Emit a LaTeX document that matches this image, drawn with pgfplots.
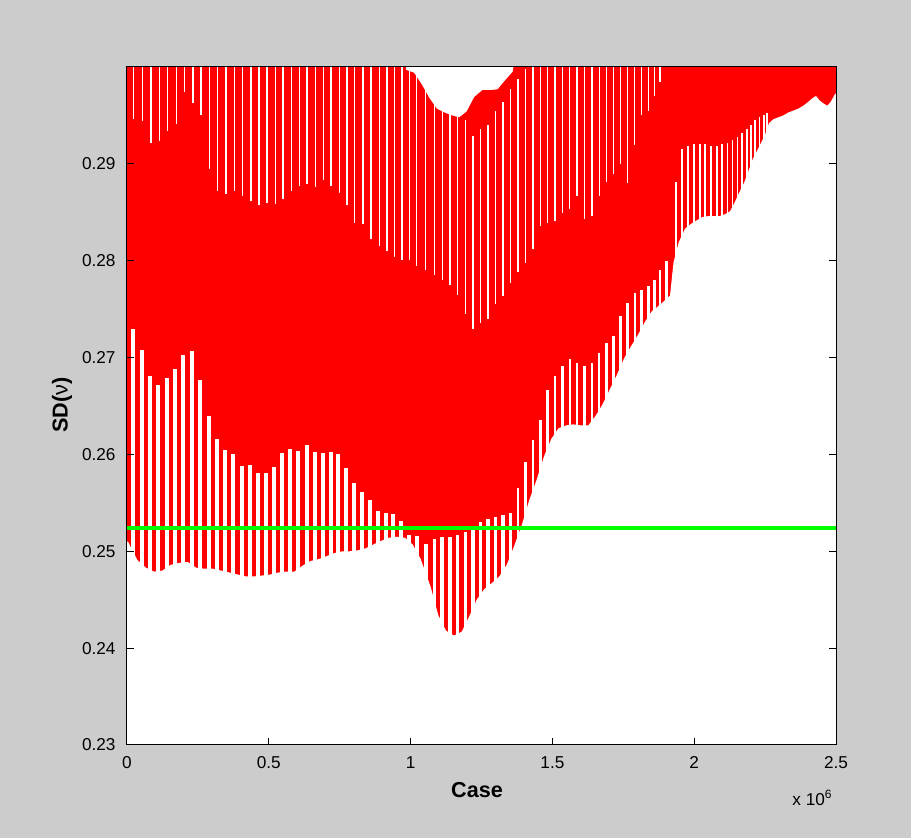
\documentclass[border=0pt]{standalone}
\usepackage{pgfplots}
\pgfplotsset{compat=1.18}
\usepackage{fontspec}
\setmainfont{Liberation Sans}
\definecolor{mred}{RGB}{255,0,0}
\definecolor{mgreen}{RGB}{0,255,0}
\definecolor{figgray}{RGB}{204,204,204}
\begin{document}
\begin{tikzpicture}
\fill[figgray] (0pt,0pt) rectangle (455.5pt,419pt);
\begin{axis}[
  name=ax,
  at={(63.5pt,46.5pt)}, anchor=south west,
  scale only axis, width=354.5pt, height=339pt,
  xmin=0, xmax=2.5, ymin=0.23, ymax=0.30,
  axis background/.style={fill=white},
  axis on top,
  axis line style={black, line width=0.5pt},
  tick style={black, line width=0.5pt},
  tick align=inside, major tick length=3.5pt,
  xtick pos=left,
  xtick={0,0.5,1,1.5,2,2.5}, xticklabels={0,0.5,1,1.5,2,2.5},
  ytick={0.23,0.24,0.25,0.26,0.27,0.28,0.29},
  yticklabels={0.23,0.24,0.25,0.26,0.27,0.28,0.29},
  tick label style={font=\fontsize{8.6}{10}\selectfont},
  yticklabel style={xshift=-2.2pt},
  xticklabel style={yshift=-2.3pt},
  label style={font=\fontsize{10.8}{13}\selectfont},
  xlabel={\textbf{Case}},
  ylabel={\textbf{SD(}ν\textbf{)}},
  xlabel style={at={(axis description cs:0.4937,-0.0774)}, anchor=base},
  ylabel style={at={(axis description cs:-0.0839,0.5015)}, anchor=base},
]
% dense band: everything below the upper envelope (with the notch)
\addplot[fill=mred, draw=none, forget plot] coordinates {
(-0.01,0.302) (0.9767,0.302) (0.9838,0.2997) (1.0120,0.2994) (1.0391,0.2982)
(1.0659,0.2968) (1.0920,0.2957) (1.1188,0.2953) (1.1449,0.2950) (1.1717,0.2948)
(1.1978,0.2954) (1.2246,0.2969) (1.2528,0.2976) (1.2800,0.2976) (1.3071,0.2977)
(1.3329,0.2986) (1.3600,0.2995) (1.3752,0.302) (2.51,0.302)} \closedcycle;
% thin white slits from the top down to their lower ends
\addplot[draw=none, mark=none, forget plot,
  error bars/.cd, y dir=plus, y explicit, error mark=none,
  error bar style={draw=white, line width=0.65pt}] coordinates {
(0.0236,0.2946) += (0,0.02) (0.0554,0.2944) += (0,0.02) (0.0846,0.2922) += (0,0.02)
(0.1139,0.2924) += (0,0.02) (0.1435,0.2934) += (0,0.02) (0.1738,0.2941) += (0,0.02)
(0.2035,0.2974) += (0,0.02) (0.2327,0.2963) += (0,0.02) (0.2609,0.2950) += (0,0.02)
(0.2902,0.2895) += (0,0.02) (0.3198,0.2872) += (0,0.02) (0.3491,0.2869) += (0,0.02)
(0.3783,0.2872) += (0,0.02) (0.4080,0.2867) += (0,0.02) (0.4372,0.2862) += (0,0.02)
(0.4654,0.2858) += (0,0.02) (0.4937,0.2860) += (0,0.02) (0.5229,0.2859) += (0,0.02)
(0.5501,0.2864) += (0,0.02) (0.5793,0.2872) += (0,0.02) (0.6090,0.2877) += (0,0.02)
(0.6347,0.2879) += (0,0.02) (0.6640,0.2876) += (0,0.02) (0.6936,0.2883) += (0,0.02)
(0.7193,0.2877) += (0,0.02) (0.7486,0.2870) += (0,0.02) (0.7757,0.2857) += (0,0.02)
(0.8029,0.2839) += (0,0.02) (0.8322,0.2838) += (0,0.02) (0.8604,0.2822) += (0,0.02)
(0.8896,0.2815) += (0,0.02) (0.9168,0.2810) += (0,0.02) (0.9439,0.2804) += (0,0.02)
(0.9697,0.2801) += (0,0.02) (0.9968,0.2801) += (0,0.02) (1.0215,0.2795) += (0,0.02)
(1.0526,0.2790) += (0,0.02) (1.0843,0.2785) += (0,0.02) (1.1114,0.2780) += (0,0.02)
(1.1389,0.2775) += (0,0.02) (1.1664,0.2765) += (0,0.02) (1.1936,0.2745) += (0,0.02)
(1.2200,0.2729) += (0,0.02) (1.2465,0.2736) += (0,0.02) (1.2729,0.2740) += (0,0.02)
(1.2994,0.2755) += (0,0.02) (1.3258,0.2764) += (0,0.02) (1.3516,0.2777) += (0,0.02)
(1.3787,0.2788) += (0,0.02) (1.4052,0.2798) += (0,0.02) (1.4316,0.2812) += (0,0.02)
(1.4573,0.2836) += (0,0.02) (1.4831,0.2839) += (0,0.02) (1.5092,0.2841) += (0,0.02)
(1.5353,0.2849) += (0,0.02) (1.5614,0.2853) += (0,0.02) (1.5867,0.2867) += (0,0.02)
(1.6132,0.2843) += (0,0.02) (1.6396,0.2846) += (0,0.02) (1.6650,0.2867) += (0,0.02)
(1.6897,0.2881) += (0,0.02) (1.7144,0.2890) += (0,0.02) (1.7398,0.2900) += (0,0.02)
(1.7652,0.2880) += (0,0.02) (1.7906,0.2919) += (0,0.02) (1.8145,0.2950) += (0,0.02)
(1.8389,0.2955) += (0,0.02) (1.8600,0.2970) += (0,0.02) (1.8794,0.2985) += (0,0.02)
};
% white below the lower tips of the columns
\addplot[fill=white, draw=none, forget plot] coordinates {
(-0.01,0.2510) (0.0035,0.2510) (0.0363,0.2491) (0.0670,0.2483) (0.0952,0.2479)
(0.1245,0.2480) (0.1541,0.2486) (0.1844,0.2488) (0.2140,0.2489) (0.2444,0.2483)
(0.2740,0.2482) (0.3022,0.2482) (0.3325,0.2480) (0.3621,0.2478) (0.3903,0.2476)
(0.4185,0.2474) (0.4467,0.2474) (0.4771,0.2475) (0.5053,0.2476) (0.5324,0.2478)
(0.5606,0.2479) (0.5899,0.2479) (0.6181,0.2485) (0.6477,0.2490) (0.6770,0.2492)
(0.7042,0.2495) (0.7299,0.2498) (0.7592,0.2500) (0.7863,0.2500) (0.8145,0.2501)
(0.8417,0.2503) (0.8685,0.2507) (0.8981,0.2511) (0.9249,0.2514) (0.9510,0.2515)
(0.9803,0.2514) (1.0074,0.2507) (1.0356,0.2492) (1.0709,0.2463) (1.0977,0.2434)
(1.1248,0.2418) (1.1530,0.2413) (1.1802,0.2417) (1.2070,0.2433) (1.2331,0.2450)
(1.2599,0.2461) (1.2860,0.2467) (1.3128,0.2474) (1.3389,0.2486) (1.3646,0.2505)
(1.3918,0.2527) (1.4186,0.2553) (1.4446,0.2574) (1.4704,0.2598) (1.4961,0.2616)
(1.5215,0.2627) (1.5490,0.2630) (1.5737,0.2631) (1.5998,0.2630) (1.6266,0.2630)
(1.6527,0.2640) (1.6773,0.2652) (1.7020,0.2667) (1.7271,0.2682) (1.7525,0.2699)
(1.7779,0.2712) (1.8029,0.2724) (1.8265,0.2737) (1.8512,0.2748) (1.8688,0.2752)
(1.8889,0.2757) (1.9147,0.2764) (1.9270,0.2798) (1.9453,0.2819) (1.9676,0.2833)
(1.9887,0.2838) (2.0109,0.2842) (2.0286,0.2845) (2.0497,0.2846) (2.0709,0.2846)
(2.0885,0.2846) (2.1086,0.2848) (2.1262,0.2851) (2.1439,0.2861) (2.1615,0.2872)
(2.1767,0.2881) (2.1943,0.2895) (2.2063,0.2905) (2.2225,0.2914) (2.2380,0.2923)
(2.2521,0.2932) (2.2638,0.2942) (2.2789,0.2946) (2.2966,0.2948) (2.3142,0.2950)
(2.3318,0.2953) (2.3495,0.2955) (2.3671,0.2957) (2.3847,0.2960) (2.4023,0.2964)
(2.4178,0.2968) (2.4295,0.2970) (2.4436,0.2965) (2.4577,0.2962) (2.4693,0.2960)
(2.4813,0.2964) (2.4965,0.2972) (2.51,0.2975)} \closedcycle;
% white gaps between the lower columns (up to the dense band)
\addplot[ycomb, draw=white, line width=2.0pt, mark=none, forget plot] coordinates {
(0.0222,0.2729) (0.0518,0.2708) (0.0811,0.2681) (0.1104,0.2672) (0.1400,0.2679)
(0.1693,0.2688) (0.1985,0.2703) (0.2292,0.2707) (0.2574,0.2677) (0.2881,0.2640)
(0.3173,0.2616) (0.3466,0.2605) (0.3748,0.2600) (0.4044,0.2588) (0.4327,0.2589)
(0.4619,0.2581) (0.4912,0.2581) (0.5183,0.2587) (0.5465,0.2601) (0.5758,0.2606)
(0.6047,0.2604) (0.6336,0.2610) (0.6618,0.2603) (0.6900,0.2601) (0.7176,0.2603)
(0.7447,0.2600) (0.7729,0.2586) (0.8004,0.2571) (0.8279,0.2561) (0.8551,0.2553)
(0.8833,0.2542) (0.9115,0.2539) (0.9379,0.2538) (0.9661,0.2531) (0.9937,0.2517)
(1.0215,0.2516) (1.0526,0.2507)};
\addplot[ycomb, draw=white, line width=1.7pt, mark=none, forget plot] coordinates {
(1.0843,0.2513) (1.1114,0.2515) (1.1389,0.2515) (1.1664,0.2517) (1.1936,0.2520)
(1.2200,0.2525) (1.2465,0.2530) (1.2729,0.2533) (1.2994,0.2535) (1.3258,0.2537)
(1.3516,0.2540)};
\addplot[ycomb, draw=white, line width=1.3pt, mark=none, forget plot] coordinates {
(1.3787,0.2565) (1.4052,0.2592) (1.4316,0.2615) (1.4573,0.2636) (1.4831,0.2667)
(1.5092,0.2681) (1.5353,0.2691) (1.5614,0.2698) (1.5867,0.2694) (1.6132,0.2691)
(1.6396,0.2694) (1.6650,0.2705) (1.6897,0.2715) (1.7144,0.2722) (1.7398,0.2743)
(1.7652,0.2756) (1.7906,0.2767) (1.8145,0.2770) (1.8389,0.2774) (1.8600,0.2780)
(1.8794,0.2790) (1.9016,0.2800)};
\addplot[ycomb, draw=white, line width=0.9pt, mark=none, forget plot] coordinates {
(1.9358,0.2881) (1.9570,0.2915) (1.9781,0.2918) (1.9993,0.2920) (2.0197,0.2920)
(2.0391,0.2920) (2.0603,0.2918) (2.0797,0.2918) (2.0987,0.2920) (2.1174,0.2922)
(2.1350,0.2925) (2.1527,0.2928) (2.1693,0.2932) (2.1855,0.2936) (2.2003,0.2940)
(2.2144,0.2945) (2.2303,0.2948) (2.2451,0.2950) (2.2578,0.2953)};
% reference level
\addplot[mgreen, line width=2pt, mark=none, forget plot] coordinates {(0,0.2524) (2.5,0.2524)};
\end{axis}
\node[anchor=base east, inner sep=0pt, font=\fontsize{8.6}{10}\selectfont]
  at ([xshift=-1.5pt, yshift=-30.5pt]ax.south east) {x 10\textsuperscript{6}};
\end{tikzpicture}
\end{document}
